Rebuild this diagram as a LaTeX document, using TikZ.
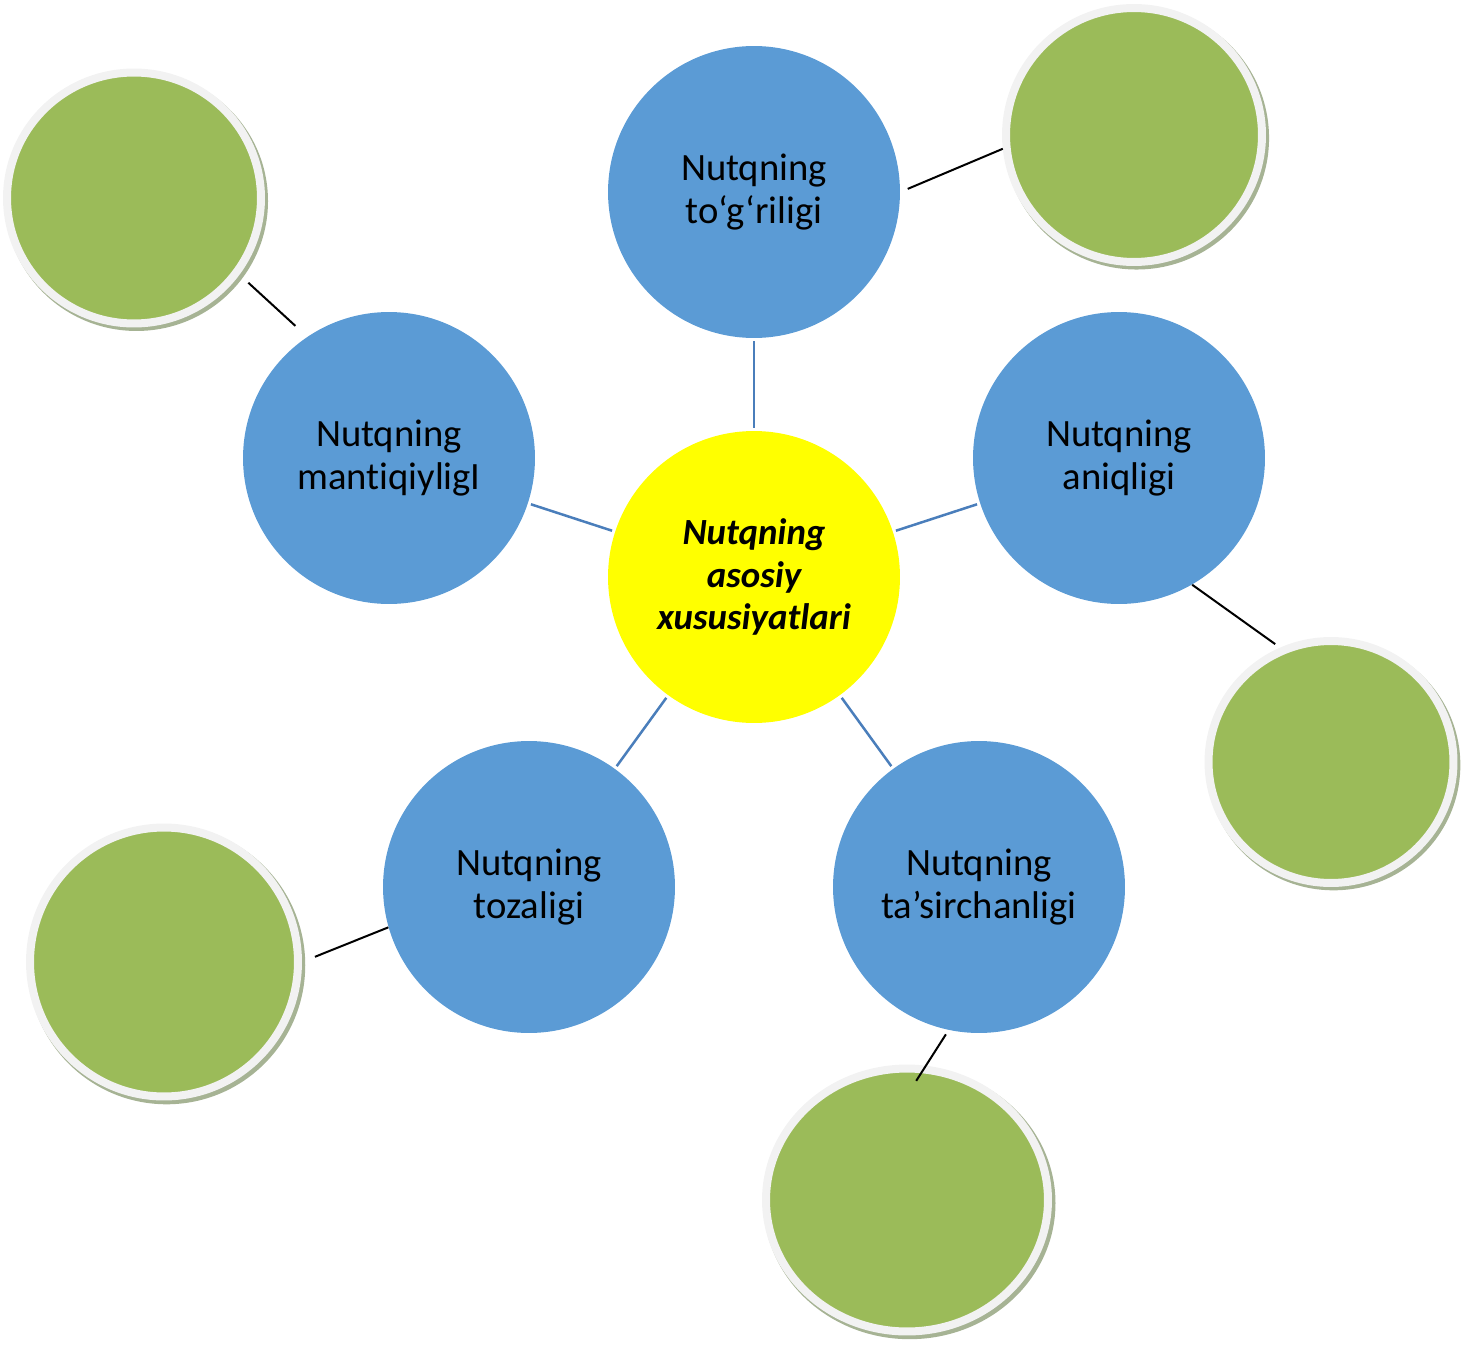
\documentclass[tikz,border=0pt]{standalone}
\usepackage{fontspec}
\setmainfont{Carlito}[Ligatures={CommonOff,ContextualOff},Contextuals=AlternateOff]
\usepackage{xcolor}
\usepackage{tikz}
\usetikzlibrary{shapes.geometric,shadows}

\definecolor{hubyellow}{HTML}{FFFF00}
\definecolor{topicblue}{HTML}{5B9BD5}
\definecolor{leafgreen}{HTML}{9BBB59}
\definecolor{ringgrey}{HTML}{F2F2F2}
\definecolor{shadowgreen}{HTML}{A6B394}
\definecolor{spokeblue}{HTML}{4A7EBB}

\begin{document}
\begin{tikzpicture}[x=0.02cm, y=-0.02cm,
	hub/.style={circle, fill=hubyellow, minimum size=5.84cm, align=center,
		font=\fontsize{21}{24}\selectfont\bfseries\itshape},
	topic/.style={circle, fill=topicblue, minimum size=5.84cm, align=center,
		font=\fontsize{22}{25}\selectfont},
	leaf/.style 2 args={ellipse, fill=leafgreen, draw=ringgrey, line width=0.16cm,
		minimum width=#1, minimum height=#2,
		drop shadow={shadow xshift=0.05cm, shadow yshift=-0.06cm, shadow scale=1.035,
			fill=shadowgreen, opacity=1}},
	spoke/.style={draw=spokeblue, line width=0.05cm, shorten <=0.06cm, shorten >=0.06cm},
	link/.style={draw=black, line width=0.04cm}]
	\useasboundingbox (0,0) rectangle (1463,1348);
	
	% Markaz
	\node[hub] (hub) at (754,577) {Nutqning\\asosiy\\xususiyatlari};
	
	% Xususiyatlar
	\foreach \n/\x/\y/\txt in {tog/754/192/{Nutqning\\to‘g‘riligi},
		aniq/1119/458/{Nutqning\\aniqligi},
		tasir/979/887/{Nutqning\\ta’sirchanligi},
		toz/529/887/{Nutqning\\tozaligi},
		mant/389/458/{Nutqning\\mantiqiyligI}} {
		\node[topic] (\n) at (\x,\y) {\txt};
		\draw[spoke] (hub) -- (\n);
	}
	
	% Yashil doiralar
	\foreach \n/\x/\y/\w/\h in {gtr/1134/135/5.12/5.08,
		gtl/134/198/5.08/5.02,
		gr/1331/762/4.9/4.84,
		gbl/164/962/5.36/5.38,
		gb/907/1200/5.64/5.26} {
		\node[leaf={\w cm}{\h cm}] (\n) at (\x,\y) {};
	}
	
	% Bog'lanishlar
	\draw[link, shorten <=0.16cm] (tog.0) -- (gtr.186);
	\draw[link, shorten <=0.24cm, shorten >=0.32cm] (gtl.324) -- (mant.124);
	\draw[link, shorten >=0.12cm] (aniq.300) -- (gr.114);
	\draw[link, shorten >=0.28cm] (toz.196) -- (gbl.0);
	\draw[link, shorten <=0.1cm, shorten >=-0.36cm] (tasir.258) -- (gb.82);
\end{tikzpicture}
\end{document}
